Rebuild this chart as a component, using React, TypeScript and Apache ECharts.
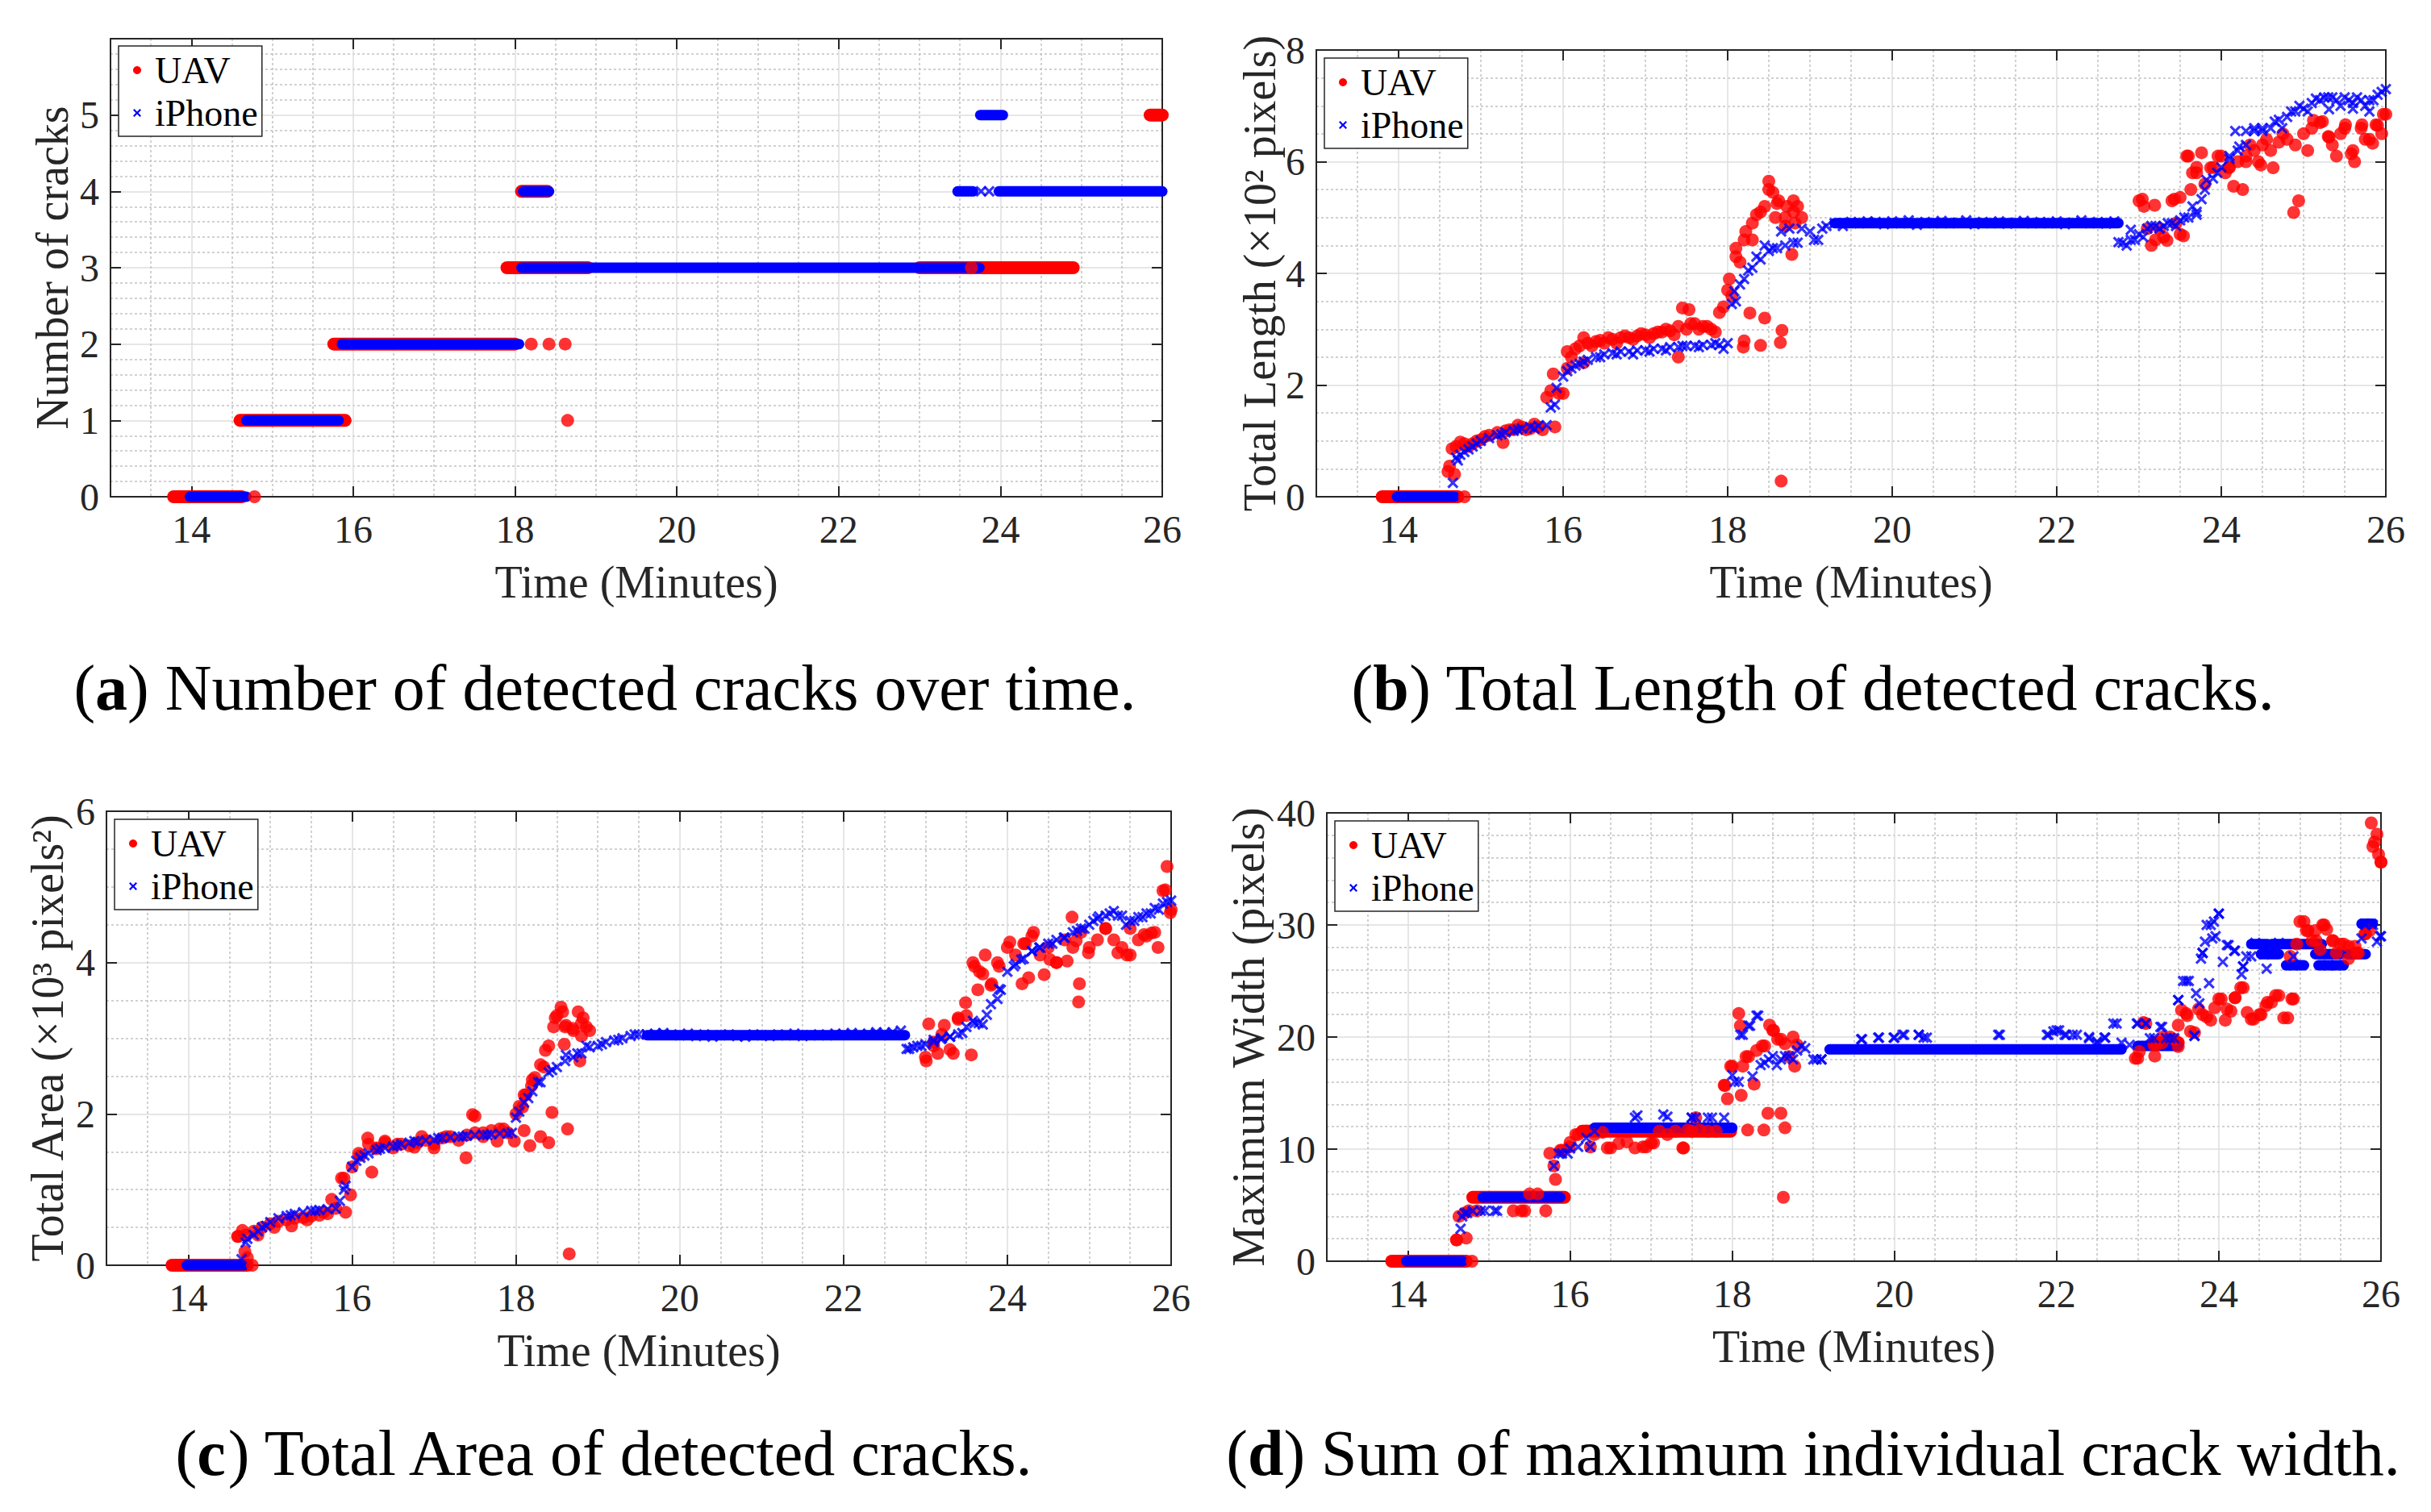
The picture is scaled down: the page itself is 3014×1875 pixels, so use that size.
import React, { useEffect, useRef } from 'react';
import * as echarts from 'echarts';

const N = null;
// shared time grid (minutes)
const T = [13.8,13.9,14.0,14.1,14.2,14.3,14.4,14.5,14.6,14.7,
14.8,14.9,15.0,15.1,15.2,15.3,15.4,15.5,15.6,15.7,
15.8,15.9,16.0,16.1,16.2,16.3,16.4,16.5,16.6,16.7,
16.8,16.9,17.0,17.1,17.2,17.3,17.4,17.5,17.6,17.7,
17.8,17.9,18.0,18.1,18.2,18.3,18.4,18.5,18.6,18.7,
18.8,18.9,19.0,19.1,19.2,19.3,19.4,19.5,19.6,19.7,
19.8,19.9,20.0,20.1,20.2,20.3,20.4,20.5,20.6,20.7,
20.8,20.9,21.0,21.1,21.2,21.3,21.4,21.5,21.6,21.7,
21.8,21.9,22.0,22.1,22.2,22.3,22.4,22.5,22.6,22.7,
22.8,22.9,23.0,23.1,23.2,23.3,23.4,23.5,23.6,23.7,
23.8,23.9,24.0,24.1,24.2,24.3,24.4,24.5,24.6,24.7,
24.8,24.9,25.0,25.1,25.2,25.3,25.4,25.5,25.6,25.7,
25.8,25.9,26.0];

const X_TICKS = [14, 16, 18, 20, 22, 24, 26];

// ---------- (a) number of cracks: runs [tStart, tEnd, count] ----------
const aUavRuns = [[13.78,14.62,0],[14.6,15.9,1],[15.76,18.0,2],[17.9,18.9,3],[18.08,18.4,4],[23.0,24.9,3],[25.85,26.0,5]];
const aIphRuns = [[13.98,14.68,0],[14.68,15.82,1],[15.86,18.05,2],[18.08,23.74,3],[18.1,18.42,4],[23.47,23.66,4],[23.98,26.0,4],[23.75,24.03,5]];
const aUavPts = [[14.78,0],[18.2,2],[18.42,2],[18.62,2],[18.65,1],[23.64,3]];
const aIphPts = [[23.76,4],[23.86,4]];

// ---------- (b) total length (x100 px) ----------
const bUavRuns = [[13.8,14.72,0]];
const bIphRuns = [[13.98,14.68,0],[19.3,22.75,4.9]];
const bUav = [N,N,N,N,N,N,N,N,0.45,0.9,
0.95,0.95,1.02,1.1,1.15,1.18,1.2,1.25,1.22,1.25,
1.78,1.25,1.85,2.5,2.7,2.75,2.78,2.75,2.82,2.85,
2.85,2.88,2.9,2.92,2.95,2.97,3.05,3.0,3.1,3.05,
3.0,3.3,3.7,4.3,4.6,4.9,5.1,5.5,5.25,5.0,
5.1,5.0,N,N,N,N,N,N,N,N,
N,N,N,N,N,N,N,N,N,N,
N,N,N,N,N,N,N,N,N,N,
N,N,N,N,N,N,N,N,N,N,
N,N,5.3,4.8,4.6,4.65,5.3,4.7,6.1,5.8,
5.6,5.9,6.1,5.9,6.0,6.1,6.2,6.3,6.2,6.35,
6.4,6.3,6.5,6.6,6.7,6.45,6.1,6.6,6.2,6.6,
6.4,6.65,6.85];
const bUavExtra = [[14.8,0],[14.62,0.55],[14.65,0.86],[14.68,0.4],[14.75,0.98],[14.85,0.9],[14.95,1.0],[15.05,1.08],[15.27,0.97],[15.35,1.2],[15.45,1.28],[15.55,1.2],[15.65,1.3],[15.75,1.2],[15.85,1.9],[15.88,2.2],[15.95,1.85],[16.05,2.3],[16.05,2.6],[16.15,2.65],[16.25,2.4],[16.25,2.85],[16.35,2.7],[16.45,2.8],[16.55,2.85],[16.65,2.75],[16.75,2.88],[16.85,2.82],[16.95,2.92],[17.05,2.85],[17.15,2.95],[17.25,3.0],[17.35,2.9],[17.4,2.5],[17.45,3.38],[17.53,3.35],[17.55,3.1],[17.65,3.0],[17.75,3.05],[17.85,2.95],[17.95,3.4],[18.02,3.9],[18.05,3.6],[18.1,4.45],[18.15,4.2],[18.19,2.68],[18.2,2.79],[18.22,4.75],[18.27,3.29],[18.3,4.6],[18.35,5.05],[18.4,2.71],[18.45,3.2],[18.45,5.2],[18.5,5.65],[18.55,5.45],[18.58,5.0],[18.62,5.3],[18.64,2.76],[18.65,0.28],[18.66,2.98],[18.7,4.85],[18.72,5.2],[18.78,4.34],[18.8,5.3],[18.82,4.9],[18.85,5.2],
[23.04,5.33],[23.06,5.2],[23.15,4.5],[23.19,5.22],[23.25,4.8],[23.34,4.59],[23.43,5.33],[23.45,4.9],[23.5,5.36],[23.54,4.67],[23.58,6.1],[23.63,5.5],[23.65,5.8],[23.7,5.9],[23.76,6.16],[23.87,5.89],[23.96,6.1],[24.05,5.8],[24.09,5.89],[24.15,5.56],[24.26,5.5],[24.3,6.0],[24.35,6.3],[24.45,6.0],[24.48,5.94],[24.55,6.4],[24.63,5.89],[24.75,6.5],[24.88,5.09],[24.94,5.3],[25.05,6.2],[25.12,6.74],[25.23,6.72],[25.31,6.44],[25.35,6.3],[25.45,6.5],[25.51,6.66],[25.58,6.14],[25.62,6.0],[25.71,6.66],[25.75,6.4],[25.84,6.33],[25.88,6.66],[25.95,6.5],[25.97,6.85]];
const bIph = [N,N,N,N,N,N,N,N,N,0.7,
0.8,0.9,1.0,1.05,1.1,1.15,1.18,1.22,1.25,1.27,
1.28,1.65,2.15,2.3,2.38,2.45,2.5,2.55,2.57,2.6,
2.6,2.62,2.62,2.65,2.65,2.68,2.68,2.7,2.7,2.72,
2.72,2.72,2.75,3.5,3.9,4.1,4.25,4.4,4.45,4.5,
4.55,4.8,4.75,4.6,4.85,4.9,4.85,4.92,4.9,4.93,
4.92,4.88,4.93,4.9,4.95,4.87,4.92,4.9,4.94,4.9,
4.91,4.95,4.88,4.92,4.9,4.93,4.89,4.91,4.94,4.9,
4.92,4.9,4.93,4.88,4.91,4.95,4.9,4.92,4.89,4.93,
4.55,4.6,4.7,4.8,4.85,4.85,4.9,4.95,5.0,5.1,
5.5,5.7,5.9,6.05,6.2,6.3,6.55,6.6,6.6,6.75,
6.8,6.9,6.95,7.05,7.1,7.15,7.1,7.15,7.05,7.1,
7.1,7.2,7.3];
const bIphExtra = [[14.66,0.25],[14.72,0.65],[14.75,0.75],[14.85,0.85],[14.95,0.95],[15.25,1.12],[15.45,1.2],[15.65,1.22],[15.85,1.6],[15.92,1.95],[16.05,2.25],[16.15,2.35],[16.25,2.42],[16.45,2.5],[16.65,2.55],[16.85,2.55],[17.05,2.6],[17.25,2.62],[17.45,2.7],[17.65,2.68],[17.85,2.75],[17.95,2.65],[18.05,3.45],[18.08,3.68],[18.15,3.8],[18.25,4.05],[18.35,4.3],[18.45,4.5],[18.55,4.45],[18.65,4.75],[18.75,4.8],[18.85,4.55],[19.05,4.6],[19.15,4.8],[22.75,4.56],[22.85,4.5],[22.9,4.78],[22.95,4.6],[23.05,4.65],[23.15,4.85],[23.25,4.8],[23.35,4.9],[23.45,4.85],[23.55,5.0],[23.65,5.2],[23.7,5.05],[23.76,5.33],[23.82,5.67],[23.95,5.8],[24.1,6.1],[24.17,6.55],[24.22,6.27],[24.3,6.55],[24.4,6.6],[24.5,6.55],[24.65,6.72],[24.74,6.6],[24.85,6.9],[24.95,7.0],[25.05,6.9],[25.15,7.13],[25.25,7.15],[25.31,6.94],[25.35,7.15],[25.45,7.0],[25.55,7.1],[25.6,6.95],[25.65,7.15],[25.75,7.0],[25.8,6.9],[25.85,7.1],[25.95,7.25]];

// ---------- (c) total area (x1000 px^2) ----------
const cUavRuns = [[13.8,14.72,0]];
const cIphRuns = [[13.98,14.68,0],[19.6,22.75,3.04]];
const cUav = [N,N,N,N,N,N,N,N,0.38,0.4,
0.45,0.5,0.55,0.58,0.6,0.62,0.63,0.65,0.66,0.68,
0.75,1.15,1.3,1.45,1.6,1.55,1.62,1.55,1.6,1.58,
1.62,1.65,1.6,1.68,1.7,1.65,1.72,1.75,1.7,1.78,
1.8,1.75,2.0,2.25,2.45,2.65,2.9,3.3,3.15,3.1,
3.2,3.1,N,N,N,N,N,N,N,N,
N,N,N,N,N,N,N,N,N,N,
N,N,N,N,N,N,N,N,N,N,
N,N,N,N,N,N,N,N,N,N,
N,N,2.75,2.95,3.05,2.85,3.25,3.3,3.95,3.85,
3.7,3.95,4.2,4.1,4.25,4.35,4.1,4.2,4.0,4.3,
4.2,4.4,4.2,4.3,4.45,4.3,4.2,4.1,4.3,4.35,
4.4,4.95,4.7];
const cUavExtra = [[14.78,0],[14.61,0.38],[14.66,0.46],[14.69,0.18],[14.72,0.1],[14.85,0.4],[15.05,0.5],[15.26,0.52],[15.45,0.6],[15.65,0.7],[15.75,0.87],[15.87,1.15],[15.92,0.7],[15.98,0.93],[16.08,1.48],[16.19,1.68],[16.24,1.23],[16.29,1.54],[16.4,1.64],[16.55,1.6],[16.76,1.56],[16.85,1.7],[17.0,1.55],[17.15,1.7],[17.39,1.42],[17.47,1.99],[17.5,1.97],[17.6,1.75],[17.77,1.64],[17.85,1.8],[17.98,1.64],[18.04,2.1],[18.08,2.09],[18.1,1.78],[18.12,2.25],[18.17,1.58],[18.19,2.37],[18.23,2.48],[18.3,1.7],[18.34,2.62],[18.36,2.84],[18.4,1.62],[18.44,2.02],[18.46,3.15],[18.48,3.27],[18.55,3.41],[18.57,3.35],[18.59,2.92],[18.61,3.17],[18.63,1.8],[18.65,0.15],[18.69,3.13],[18.76,3.35],[18.78,2.7],[18.8,3.03],[18.82,3.27],[18.86,3.15],
[23.01,2.7],[23.04,3.19],[23.1,2.9],[23.15,2.8],[23.23,3.17],[23.34,2.8],[23.4,3.27],[23.49,3.47],[23.56,2.78],[23.58,4.0],[23.64,3.64],[23.66,3.88],[23.73,4.1],[23.81,3.72],[23.88,4.0],[24.03,4.27],[24.18,3.72],[24.22,4.25],[24.26,3.8],[24.32,4.4],[24.45,3.84],[24.52,4.04],[24.6,4.0],[24.73,4.02],[24.79,4.6],[24.84,4.29],[24.87,3.48],[24.88,3.72],[24.99,4.13],[25.2,4.45],[25.35,4.13],[25.46,4.1],[25.5,4.45],[25.67,4.37],[25.76,4.39],[25.84,4.2],[25.93,4.96],[25.95,5.27],[25.99,4.66]];
const cIph = [N,N,N,N,N,N,N,N,N,0.3,
0.4,0.5,0.57,0.62,0.65,0.68,0.7,0.72,0.73,0.74,
0.75,1.0,1.3,1.42,1.48,1.52,1.55,1.57,1.6,1.62,
1.63,1.65,1.66,1.68,1.69,1.7,1.71,1.72,1.72,1.73,
1.74,1.74,1.95,2.15,2.3,2.42,2.55,2.62,2.7,2.75,
2.8,2.88,2.9,2.95,2.97,3.0,3.03,3.05,3.05,3.06,
3.07,3.05,3.04,3.06,3.03,3.05,3.02,3.04,3.05,3.03,
3.02,3.05,3.04,3.03,3.05,3.04,3.06,3.03,3.04,3.05,
3.04,3.06,3.05,3.07,3.05,3.06,3.08,3.07,3.08,3.1,
2.86,2.9,2.92,2.98,3.0,3.02,3.05,3.15,3.2,3.18,
3.45,3.65,3.88,3.98,4.05,4.15,4.2,4.25,4.3,4.33,
4.4,4.45,4.5,4.58,4.62,4.68,4.62,4.55,4.6,4.65,
4.72,4.78,4.82];
const cIphExtra = [[14.65,0.08],[14.72,0.35],[14.85,0.45],[14.95,0.52],[15.25,0.66],[15.55,0.72],[15.85,0.85],[15.92,1.05],[16.05,1.38],[16.15,1.45],[16.34,1.54],[16.55,1.58],[16.76,1.64],[17.05,1.68],[17.35,1.7],[17.65,1.72],[17.95,1.75],[18.04,2.03],[18.15,2.21],[18.27,2.42],[18.44,2.58],[18.61,2.78],[18.75,2.8],[18.86,2.9],[19.05,2.92],[19.25,2.98],[19.45,3.05],[22.77,2.86],[22.85,2.88],[22.95,2.9],[23.1,2.95],[23.19,2.99],[23.3,3.02],[23.45,3.07],[23.58,3.23],[23.65,3.2],[23.75,3.31],[23.88,3.52],[23.92,3.64],[24.08,3.95],[24.17,4.04],[24.3,4.15],[24.39,4.2],[24.55,4.25],[24.69,4.33],[24.85,4.42],[24.94,4.45],[25.05,4.55],[25.12,4.61],[25.25,4.65],[25.35,4.62],[25.45,4.5],[25.55,4.55],[25.65,4.6],[25.75,4.65],[25.85,4.7],[25.95,4.8]];

// ---------- (d) maximum width (px) ----------
const dUavRuns = [[13.8,14.72,0],[14.8,15.93,5.7],[16.15,17.98,11.6],[23.2,23.5,19.5]];
const dIphRuns = [[13.98,14.68,0],[14.92,15.88,5.7],[16.3,18.0,11.9],[19.2,22.8,18.9],[23.0,23.5,19.2],[24.4,24.6,28.3],[24.65,25.27,28.3],[24.52,24.74,27.4],[25.19,25.5,27.4],[25.59,25.81,27.4],[24.83,25.05,26.4],[25.23,25.54,26.4],[25.76,25.9,30.1]];
const dUav = [N,N,N,N,N,N,N,N,1.9,4.3,
N,N,N,N,N,4.5,4.5,6.0,6.0,4.5,
8.5,9.9,10.6,11.3,11.6,11.3,11.5,10.1,10.5,10.65,
10.1,10.2,10.55,11.6,11.3,11.6,10.1,11.6,11.7,11.6,
11.6,15.7,17.4,21.0,18.25,18.8,19.2,20.6,19.8,18.25,
19.3,N,N,N,N,N,N,N,N,N,
N,N,N,N,N,N,N,N,N,N,
N,N,N,N,N,N,N,N,N,N,
N,N,N,N,N,N,N,N,N,N,
N,N,18.1,21.2,19.3,19.5,20.0,19.15,22.1,20.4,
22.0,21.5,23.4,22.5,23.5,24.4,21.6,22.0,23.1,23.7,
21.7,23.4,30.3,29.5,28.6,30.0,28.6,28.3,28.1,27.5,
29.2,37.0,35.6];
const dUavExtra = [[14.79,0],[14.6,1.9],[14.63,4.0],[14.72,2.06],[14.75,4.5],[14.85,4.5],[15.44,4.5],[15.75,9.63],[15.82,7.3],[15.88,9.9],[15.99,10.2],[16.07,11.3],[16.25,10.2],[16.46,10.1],[16.94,10.2],[17.03,10.55],[17.39,10.1],[17.45,11.7],[17.55,12.8],[17.91,15.67],[17.94,14.5],[17.98,17.4],[18.08,22.1],[18.11,14.8],[18.13,17.4],[18.17,18.25],[18.19,11.7],[18.27,15.8],[18.37,19.2],[18.39,11.7],[18.44,13.2],[18.46,21.06],[18.51,20.6],[18.56,19.8],[18.6,13.2],[18.63,5.7],[18.65,11.9],[18.65,19.4],[18.75,20.0],[18.77,17.4],
[22.97,18.1],[23.02,18.7],[23.07,21.3],[23.21,18.3],[23.23,19.3],[23.31,20.0],[23.45,19.8],[23.5,21.06],[23.54,22.4],[23.61,21.9],[23.65,20.5],[23.75,22.5],[23.85,21.8],[23.95,22.6],[24.03,23.4],[24.08,21.5],[24.15,22.3],[24.2,23.5],[24.27,24.4],[24.35,22.2],[24.43,21.6],[24.52,22.0],[24.58,22.8],[24.65,23.1],[24.74,23.7],[24.85,21.7],[24.92,23.4],[24.88,27.2],[24.96,28.3],[25.05,30.3],[25.08,29.5],[25.15,28.6],[25.19,29.5],[25.25,27.8],[25.28,30.0],[25.33,29.6],[25.41,28.6],[25.45,27.5],[25.54,28.3],[25.6,27.0],[25.68,28.1],[25.72,27.5],[25.81,29.2],[25.86,29.5],[25.88,39.1],[25.92,37.4],[25.95,38.1],[25.97,36.3],[26.0,35.6]];
const dIph = [N,N,N,N,N,N,N,N,N,4.3,
4.5,4.5,N,4.5,N,N,N,N,N,N,
8.5,9.6,10.05,10.2,11.0,11.6,N,N,N,N,
12.8,N,N,N,12.9,N,N,12.8,N,12.8,
N,12.8,16.6,20.2,21.0,21.9,17.7,18.3,18.0,18.3,
18.8,19.0,18.0,18.0,N,N,N,N,19.8,N,
19.95,N,19.95,20.2,N,20.2,19.95,N,N,N,
N,N,N,N,N,20.2,N,N,N,N,
N,20.2,20.6,20.2,20.2,N,20.0,19.5,19.95,21.2,
19.5,19.3,21.2,21.2,19.9,20.9,19.9,23.3,25.0,20.1,
27.5,30.0,31.0,28.2,27.7,26.3,27.2,N,N,N,
N,N,N,N,N,N,N,N,N,N,
30.1,30.0,29.0];
const dIphExtra = [[14.65,2.9],[14.67,4.0],[14.73,4.3],[14.95,4.5],[15.07,4.5],[15.86,9.6],[15.97,9.6],[16.25,10.2],[16.83,13.0],[17.15,13.1],[17.5,12.8],[17.55,12.8],[17.75,12.8],[18.03,16.0],[18.08,16.0],[18.13,20.2],[18.22,21.0],[18.25,16.5],[18.32,21.9],[18.35,17.5],[18.45,18.0],[18.55,17.5],[18.65,18.3],[18.75,18.0],[18.85,19.2],[19.04,18.0],[19.1,18.0],[19.59,19.8],[19.81,19.95],[19.99,19.95],[20.12,20.2],[20.3,20.2],[20.36,19.95],[21.28,20.2],[21.88,20.2],[21.96,20.5],[22.03,20.6],[22.12,20.2],[22.25,20.2],[22.4,19.9],[22.5,19.6],[22.59,19.95],[22.74,21.2],[22.99,21.2],[23.1,21.2],[23.15,19.9],[23.28,20.9],[23.35,19.9],[23.45,19.9],[23.5,23.3],[23.56,25.0],[23.63,25.0],[23.7,20.1],[23.72,23.9],[23.76,23.0],[23.78,27.0],[23.8,27.5],[23.83,28.5],[23.85,30.0],[23.88,24.8],[23.92,28.8],[23.94,30.3],[23.96,29.0],[24.0,31.0],[24.05,26.7],[24.12,28.2],[24.19,27.7],[24.28,25.6],[24.3,26.3],[24.34,27.2],[24.45,28.4],[24.56,27.4],[24.59,26.1],[24.74,28.4],[24.92,27.2],[24.92,26.4],[25.35,26.4],[25.45,26.4],[25.76,28.8],[25.81,30.0],[25.88,30.1],[25.99,29.0],[25.95,28.5]];

// ---------- styling ----------
const FONT = "'Liberation Serif', 'Times New Roman', serif";
const RED = '#ff0000';
const BLUE = '#0000ff';
const AX = '#262626';
const MAJ = '#dedede';
const MINC = '#c2c2c2';
const TR = 'rgba(0,0,0,0)';
const XPATH = 'path://M0,1.6L1.6,0L5,3.4L8.4,0L10,1.6L6.6,5L10,8.4L8.4,10L5,6.6L1.6,10L0,8.4L3.4,5Z';
const UAV_SIZE = 16;
const IPH_SIZE = 14;

function onGrid(vals: (number | null)[]) {
  const out: number[][] = [];
  vals.forEach((v, i) => { if (v != null && i < T.length) out.push([T[i], v]); });
  return out;
}

const PANELS = [
  { grid: { left: 137, top: 48, width: 1304, height: 568 }, yMax: 6, yMajor: 1, yMinor: 0.2, hideMax: true,
    yName: 'Number of cracks', yGap: 44, legend: { left: 147, top: 57 },
    cap: { x: 750, y: 853, lbl: 'a', text: ' Number of detected cracks over time.' },
    uavRuns: aUavRuns, iphRuns: aIphRuns, uavPts: aUavPts, iphPts: aIphPts },
  { grid: { left: 1632, top: 62, width: 1326, height: 554 }, yMax: 8, yMajor: 2, yMinor: 0.5, hideMax: false,
    yName: 'Total Length (×10² pixels)', yGap: 41, legend: { left: 1642, top: 72 },
    cap: { x: 2248, y: 853, lbl: 'b', text: ' Total Length of detected cracks.' },
    uavRuns: bUavRuns, iphRuns: bIphRuns, uavPts: onGrid(bUav).concat(bUavExtra), iphPts: onGrid(bIph).concat(bIphExtra) },
  { grid: { left: 132, top: 1006, width: 1320, height: 563 }, yMax: 6, yMajor: 2, yMinor: 0.5, hideMax: false,
    yName: 'Total Area (×10³ pixels²)', yGap: 45, legend: { left: 142, top: 1016 },
    cap: { x: 750, y: 1802, lbl: 'c', text: ' Total Area of detected cracks.' },
    uavRuns: cUavRuns, iphRuns: cIphRuns, uavPts: onGrid(cUav).concat(cUavExtra), iphPts: onGrid(cIph).concat(cIphExtra) },
  { grid: { left: 1645, top: 1008, width: 1307, height: 556 }, yMax: 40, yMajor: 10, yMinor: 2, hideMax: false,
    yName: 'Maximum Width (pixels)', yGap: 69, legend: { left: 1655, top: 1018 },
    cap: { x: 2248, y: 1802, lbl: 'd', text: ' Sum of maximum individual crack width.' },
    uavRuns: dUavRuns, iphRuns: dIphRuns, uavPts: onGrid(dUav).concat(dUavExtra), iphPts: onGrid(dIph).concat(dIphExtra) },
];

function runSeries(name: string, runs: number[][], color: string, width: number, g: number) {
  return {
    type: 'custom', name, xAxisIndex: g * 4, yAxisIndex: g * 3 + 1, clip: false, data: runs,
    encode: { x: [0, 1], y: 2 },
    renderItem: (params: any, api: any) => {
      const p0 = api.coord([api.value(0), api.value(2)]);
      const p1 = api.coord([api.value(1), api.value(2)]);
      return { type: 'line', shape: { x1: p0[0], y1: p0[1], x2: p1[0], y2: p1[1] },
        style: { stroke: color, lineWidth: width, lineCap: 'round' } };
    },
  };
}

function buildOption() {
  const grid: any[] = [], xAxis: any[] = [], yAxis: any[] = [], series: any[] = [], legend: any[] = [], graphic: any[] = [];
  const tickFont = { fontFamily: FONT, fontSize: 48, color: AX };
  const nameFont = { fontFamily: FONT, fontSize: 56, color: AX };
  PANELS.forEach((p, g) => {
    grid.push({ ...p.grid, containLabel: false });
    const base = { gridIndex: g, type: 'value', min: 13, max: 26 };
    xAxis.push({ ...base, interval: 0.5, position: 'bottom',
      axisLine: { show: true, onZero: false, lineStyle: { color: AX, width: 2 } },
      axisTick: { show: false }, axisLabel: { show: false },
      splitLine: { show: true, lineStyle: { color: [MINC, MINC, TR, MINC], type: [3, 3], width: 1.5 } } });
    xAxis.push({ ...base, interval: 0.5, position: 'bottom',
      axisLine: { show: false }, axisTick: { show: false }, axisLabel: { show: false },
      splitLine: { show: true, lineStyle: { color: [TR, TR, MAJ, TR], width: 1.5 } } });
    xAxis.push({ ...base, position: 'bottom',
      axisLine: { show: false },
      axisTick: { show: true, inside: true, length: 13, customValues: X_TICKS, lineStyle: { color: AX, width: 2 } },
      axisLabel: { show: true, customValues: X_TICKS, margin: 16, ...tickFont,
        formatter: (v: number) => (Math.abs(v % 2) < 1e-6 && v >= 14 ? String(v) : '') },
      splitLine: { show: false },
      name: 'Time (Minutes)', nameLocation: 'middle', nameGap: 78, nameTextStyle: nameFont });
    xAxis.push({ ...base, position: 'top',
      axisLine: { show: true, onZero: false, lineStyle: { color: AX, width: 2 } },
      axisTick: { show: true, inside: true, length: 13, customValues: X_TICKS, lineStyle: { color: AX, width: 2 } },
      axisLabel: { show: false }, splitLine: { show: false } });

    const per = Math.round(p.yMajor / p.yMinor);
    const minorColors = [TR];
    for (let i = 1; i < per; i++) minorColors.push(MINC);
    const ybase = { gridIndex: g, type: 'value', min: 0, max: p.yMax };
    yAxis.push({ ...ybase, interval: p.yMinor, position: 'left',
      axisLine: { show: false }, axisTick: { show: false }, axisLabel: { show: false },
      splitLine: { show: true, lineStyle: { color: minorColors, type: [3, 3], width: 1.5 } } });
    yAxis.push({ ...ybase, interval: p.yMajor, position: 'left',
      axisLine: { show: true, onZero: false, lineStyle: { color: AX, width: 2 } },
      axisTick: { show: true, inside: true, length: 13, lineStyle: { color: AX, width: 2 } },
      axisLabel: { show: true, margin: 14, ...tickFont,
        formatter: (v: number) => (p.hideMax && v === p.yMax ? '' : String(v)) },
      splitLine: { show: true, lineStyle: { color: MAJ, width: 1.5 } },
      name: p.yName, nameLocation: 'middle', nameRotate: 90, nameGap: p.yGap, nameTextStyle: nameFont });
    yAxis.push({ ...ybase, interval: p.yMajor, position: 'right',
      axisLine: { show: true, onZero: false, lineStyle: { color: AX, width: 2 } },
      axisTick: { show: true, inside: true, length: 13, lineStyle: { color: AX, width: 2 } },
      axisLabel: { show: false }, splitLine: { show: false } });

    series.push(runSeries('UAV', p.uavRuns, RED, 16, g));
    series.push({ type: 'scatter', name: 'UAV', xAxisIndex: g * 4, yAxisIndex: g * 3 + 1, clip: false,
      data: p.uavPts, symbol: 'circle', symbolSize: UAV_SIZE, itemStyle: { color: RED } });
    series.push(runSeries('iPhone', p.iphRuns, BLUE, 13, g));
    series.push({ type: 'scatter', name: 'iPhone', xAxisIndex: g * 4, yAxisIndex: g * 3 + 1, clip: false,
      data: p.iphPts, symbol: XPATH, symbolSize: IPH_SIZE, itemStyle: { color: BLUE } });

    legend.push({
      left: p.legend.left, top: p.legend.top, orient: 'vertical', selectedMode: false,
      padding: [7, 5, 6, 18], itemGap: 7, itemWidth: 10, itemHeight: 10,
      backgroundColor: '#ffffff', borderColor: AX, borderWidth: 1.5,
      textStyle: { fontFamily: FONT, fontSize: 46, color: '#000', lineHeight: 44, padding: [0, 0, 0, 12] },
      data: [
        { name: 'UAV', icon: 'circle', itemStyle: { color: RED } },
        { name: 'iPhone', icon: XPATH, itemStyle: { color: BLUE } },
      ],
    });

    graphic.push({
      type: 'text', x: p.cap.x, y: p.cap.y,
      style: {
        text: '({b|' + p.cap.lbl + '})' + p.cap.text,
        fontFamily: FONT, fontSize: 80, fill: '#000', align: 'center', verticalAlign: 'middle',
        rich: { b: { fontFamily: FONT, fontSize: 80, fontWeight: 'bold', fill: '#000' } },
      },
    });
  });
  return { animation: false, backgroundColor: '#ffffff', grid, xAxis, yAxis, series, legend, graphic };
}

export default function App() {
  const ref = useRef<HTMLDivElement>(null);
  useEffect(() => {
    if (!ref.current) return;
    const chart = echarts.init(ref.current, null, { renderer: 'svg' });
    chart.setOption(buildOption() as any);
    return () => { chart.dispose(); };
  }, []);
  return <div ref={ref} style={{ position: 'absolute', left: 0, top: 0, width: 3014, height: 1875, background: '#fff' }} />;
}
